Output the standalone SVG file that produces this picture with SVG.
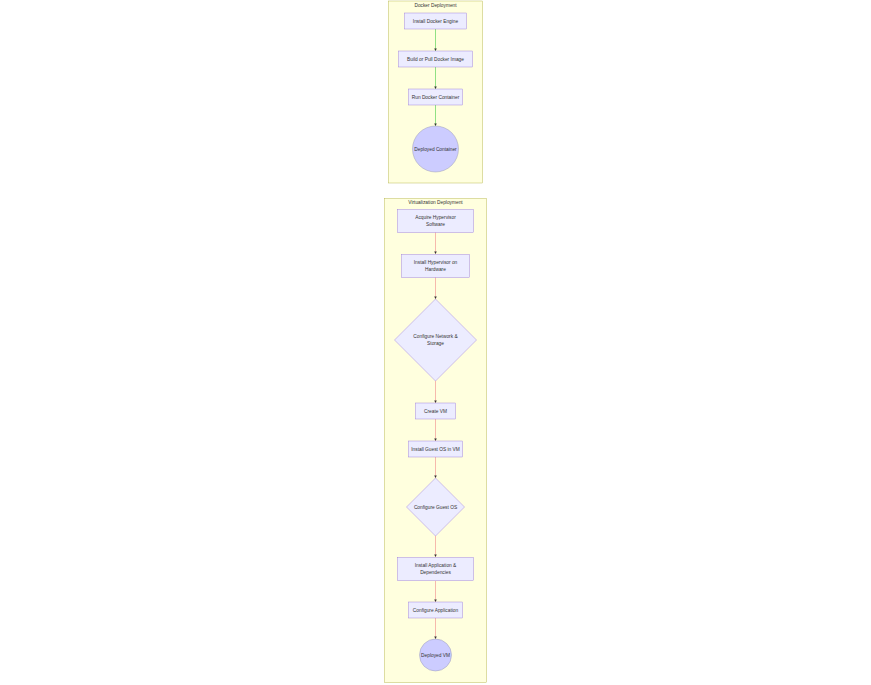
<svg xmlns="http://www.w3.org/2000/svg" width="871" height="685" viewBox="0 0 871 685">
<defs>
<style>
.cluster{fill:#ffffde;stroke:#aaaa33;stroke-width:0.4}
.node{fill:#ececff;stroke:#9370db;stroke-width:0.4}
.term{fill:#ccccff;stroke:#8a8aa8;stroke-width:0.4}
text{font-family:"Liberation Sans",Arial,sans-serif;font-size:4.8px;fill:#333;text-anchor:middle;dominant-baseline:central}
.eg{fill:none;stroke:#44cc44;stroke-width:0.6}
.er{fill:none;stroke:#f08a8a;stroke-width:0.6}
</style>
<marker id="arr" markerUnits="userSpaceOnUse" markerWidth="2.6" markerHeight="2.6" viewBox="0 0 10 10" refX="10" refY="5" orient="auto">
<path d="M0,0 L10,5 L0,10 z" fill="#333"/>
</marker>
</defs>
<rect width="871" height="685" fill="#ffffff"/>
<g id="cluster-docker">
<rect class="cluster" x="388.5" y="1" width="94" height="182"/>
<text x="435.5" y="5.5">Docker Deployment</text>
</g>
<g id="cluster-virt">
<rect class="cluster" x="384.5" y="198.5" width="102" height="484"/>
<text x="435.5" y="202.5">Virtualization Deployment</text>
</g>
<g id="edges">
<path class="eg" d="M435.5,29 V51" marker-end="url(#arr)"/>
<path class="eg" d="M435.5,67 V89" marker-end="url(#arr)"/>
<path class="eg" d="M435.5,105 V126" marker-end="url(#arr)"/>
<path class="er" d="M435.5,232 V254" marker-end="url(#arr)"/>
<path class="er" d="M435.5,277 V299" marker-end="url(#arr)"/>
<path class="er" d="M435.5,381 V403" marker-end="url(#arr)"/>
<path class="er" d="M435.5,419 V441" marker-end="url(#arr)"/>
<path class="er" d="M435.5,457 V478" marker-end="url(#arr)"/>
<path class="er" d="M435.5,536 V557" marker-end="url(#arr)"/>
<path class="er" d="M435.5,581 V602" marker-end="url(#arr)"/>
<path class="er" d="M435.5,618 V639" marker-end="url(#arr)"/>
</g>
<g id="n-install-docker">
<rect class="node" x="404.5" y="13" width="62" height="16"/>
<text x="435.5" y="21">Install Docker Engine</text>
</g>
<g id="n-build-image">
<rect class="node" x="398.5" y="51" width="74" height="16"/>
<text x="435.5" y="59">Build or Pull Docker Image</text>
</g>
<g id="n-run-container">
<rect class="node" x="408.5" y="89" width="54" height="16"/>
<text x="435.5" y="97">Run Docker Container</text>
</g>
<g id="n-deployed-container">
<circle class="term" cx="435.5" cy="149" r="23"/>
<text x="435.5" y="149">Deployed Container</text>
</g>
<g id="n-acquire">
<rect class="node" x="397.5" y="209.5" width="76" height="23"/>
<text x="435.5" y="217.5">Acquire Hypervisor</text>
<text x="435.5" y="224.5">Software</text>
</g>
<g id="n-install-hyp">
<rect class="node" x="401.5" y="254.5" width="68" height="23"/>
<text x="435.5" y="262.5">Install Hypervisor on</text>
<text x="435.5" y="269.5">Hardware</text>
</g>
<g id="n-config-net">
<polygon class="node" points="435.5,299 476.5,340 435.5,381 394.5,340"/>
<text x="435.5" y="336.5">Configure Network &amp;</text>
<text x="435.5" y="343.5">Storage</text>
</g>
<g id="n-create-vm">
<rect class="node" x="415.5" y="403" width="40" height="16"/>
<text x="435.5" y="411">Create VM</text>
</g>
<g id="n-install-guest">
<rect class="node" x="408.5" y="441" width="54" height="16"/>
<text x="435.5" y="449">Install Guest OS in VM</text>
</g>
<g id="n-config-guest">
<polygon class="node" points="435.5,478 464.5,507 435.5,536 406.5,507"/>
<text x="435.5" y="507">Configure Guest OS</text>
</g>
<g id="n-install-app">
<rect class="node" x="397.5" y="557.5" width="76" height="23"/>
<text x="435.5" y="565.5">Install Application &amp;</text>
<text x="435.5" y="572.5">Dependencies</text>
</g>
<g id="n-config-app">
<rect class="node" x="408.5" y="602" width="54" height="16"/>
<text x="435.5" y="610">Configure Application</text>
</g>
<g id="n-deployed-vm">
<circle class="term" cx="435.5" cy="655" r="16"/>
<text x="435.5" y="655">Deployed VM</text>
</g>
</svg>
